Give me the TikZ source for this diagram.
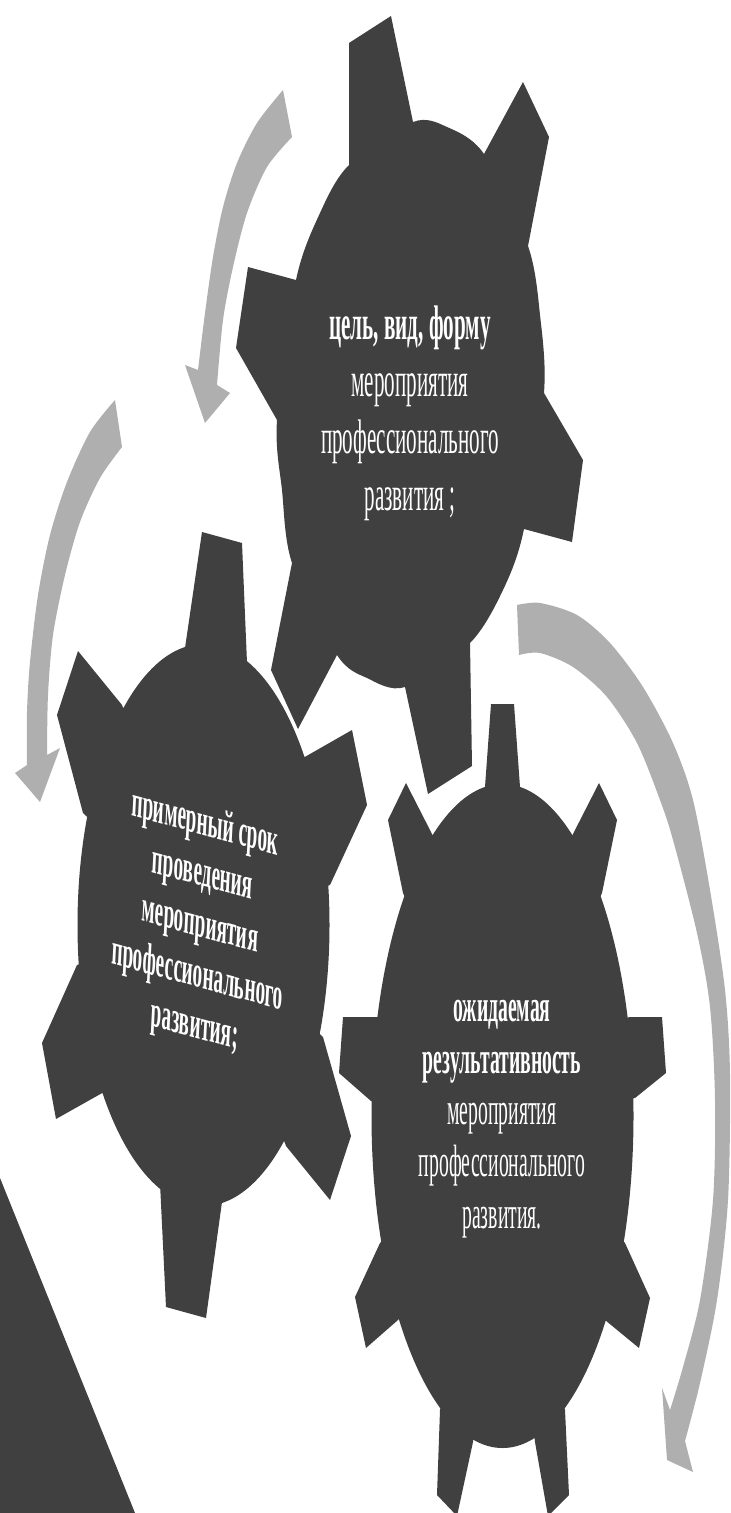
\documentclass[tikz,border=0pt]{standalone}
\usepackage{fontspec}
\setmainfont{Liberation Serif}
\usepackage{tikz}
\usepackage{xcolor}
\definecolor{gearcol}{RGB}{64,64,64}
\definecolor{arrowcol}{RGB}{175,175,175}

\begin{document}
\begin{tikzpicture}[x=0.02cm, y=-0.02cm,
		gear/.style={fill=gearcol, preaction={draw=white, line width=1.8pt}},
		turn/.style={fill=arrowcol},
		gtext/.style={text=white, align=center, inner sep=0pt, yscale=2.3},
		]
		\useasboundingbox (0,0) rectangle (730,1513);
		\clip (0,0) rectangle (730,1513);

		%Arrows
		\fill[turn] plot[smooth] coordinates {(283,90) (257,123) (237,163) (223,207) (213,257) (205,313) (198,370)}
			-- (185,365) -- (205,423) -- (230,393) -- (217,385)
			-- plot[smooth] coordinates {(217,385) (223,320) (233,267) (247,213) (267,167) (292,137)} -- cycle;
		\fill[turn] plot[smooth] coordinates {(115,400) (90,432) (67,482) (50,535) (38,595) (30,662) (27,712) (27,765)}
			-- (15,773) -- (40,802) -- (60,748) -- (47,755)
			-- plot[smooth] coordinates {(47,755) (48,695) (53,635) (65,575) (80,522) (100,478) (122,447)} -- cycle;
		\fill[turn] plot[smooth] coordinates {(517,605) (540,603) (577,615) (610,643) (643,687) (673,743) (693,800) (710,890) (725,990) (730,1075) (728,1200) (717,1300) (700,1383) (685,1441)}
			-- (693,1472) -- (667,1460) -- (662,1388) -- (670,1410)
			-- plot[smooth] coordinates {(670,1410) (683,1367) (700,1300) (713,1200) (715,1100) (710,1007) (697,933) (673,840) (660,800) (637,743) (607,697) (573,667) (540,653) (519,655)} -- cycle;

		%Gears
		\path[gear] (0,1178) -- (135,1513) -- (0,1513) -- cycle;
		\path[gear] (502.5,1116) ellipse [x radius=131, y radius=332]
			(485,787) -- (491,704) -- (514,704) -- (520,787) -- (502.5,1116) -- cycle
			(573,834) -- (599,783) -- (617,820) -- (602,893) -- (502.5,1116) -- cycle
			(629,1017) -- (662,1017) -- (666,1073) -- (635,1098) -- (502.5,1116) -- cycle
			(625,1243) -- (650,1298) -- (639,1348) -- (605,1320) -- (502.5,1116) -- cycle
			(565,1410) -- (569,1495) -- (548,1516) -- (535,1442) -- (502.5,1116) -- cycle
			(473,1442) -- (457,1516) -- (437,1495) -- (440,1410) -- (502.5,1116) -- cycle
			(398,1320) -- (366,1348) -- (355,1297) -- (380,1243) -- (502.5,1116) -- cycle
			(371,1101) -- (339,1073) -- (343,1017) -- (377,1017) -- (502.5,1116) -- cycle
			(403,893) -- (388,820) -- (406,783) -- (432,834) -- (502.5,1116) -- cycle;
		\path[gear] (203.5,925) ellipse [x radius=126, y radius=281]
			(185,648) -- (202,532) -- (242,543) -- (247,663) -- (203.5,925) -- cycle
			(303,758) -- (352,730) -- (367,805) -- (330,885) -- (203.5,925) -- cycle
			(323,1037) -- (351,1136) -- (330,1200) -- (286,1146) -- (203.5,925) -- cycle
			(222,1202) -- (206,1318) -- (166,1307) -- (160,1183) -- (203.5,925) -- cycle
			(104,1092) -- (56,1119) -- (42,1043) -- (77,965) -- (203.5,925) -- cycle
			(83,813) -- (57,715) -- (78,651) -- (122,705) -- (203.5,925) -- cycle;
		\path[gear] plot[smooth cycle] coordinates {(413,122) (447,127) (484,154) (528,246) (540,315) (544,393) (524,529) (503,590) (470,643) (405,687) (367,678) (337,655) (292,563) (282,490) (277,420) (296,280) (320,213) (349,165)}
			(349,165) -- (349,43) -- (391,16) -- (413,122) -- (410,405) -- cycle
			(484,154) -- (523,82) -- (549,137) -- (528,246) -- (410,405) -- cycle
			(544,393) -- (583,460) -- (572,542) -- (524,529) -- (410,405) -- cycle
			(470,643) -- (472,766) -- (428,794) -- (405,687) -- (410,405) -- cycle
			(337,655) -- (298,729) -- (271,670) -- (292,563) -- (410,405) -- cycle
			(277,420) -- (236,348) -- (248,267) -- (296,280) -- (410,405) -- cycle;

		%Text
		\node[gtext, font=\fontsize{12}{14.1}\selectfont] (goal) at (410,413)
			{\textbf{цель, вид, форму}\\мероприятия\\профессионального\\развития ;};
		\node[gtext, rotate=-6.7, font=\fontsize{11}{12.6}\selectfont\bfseries] (term) at (200,926)
			{примерный срок\\проведения\\мероприятия\\профессионального\\развития;};
		\node[gtext, font=\fontsize{11.2}{12.8}\selectfont] (result) at (502,1119)
			{\textbf{ожидаемая}\\\textbf{результативность}\\мероприятия\\профессионального\\развития.};
	\end{tikzpicture}
\end{document}
